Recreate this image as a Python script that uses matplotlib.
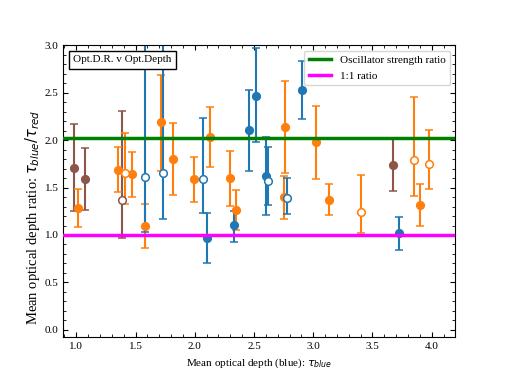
import matplotlib
matplotlib.use('Agg')
import matplotlib.pyplot as plt
from matplotlib.offsetbox import AnchoredText

plt.rcParams['font.family'] = ['Liberation Serif', 'DejaVu Serif']
plt.rcParams['font.size'] = 8

# groups: (x, y, lower, upper)
brown_x = [0.977, 1.076, 3.67]
brown_y = [1.71, 1.59, 1.74]
brown_lo = [1.25, 1.26, 1.46]
brown_hi = [2.17, 1.92, 2.01]

brown_open_x = [1.384]
brown_open_y = [1.37]
brown_open_lo = [0.97]
brown_open_hi = [2.31]

orange_x = [1.013, 1.35, 1.47, 1.58, 1.715, 1.82, 1.99, 2.13, 2.30, 2.345,
            2.75, 2.76, 3.02, 3.13, 3.90]
orange_y = [1.29, 1.69, 1.64, 1.09, 2.19, 1.80, 1.59, 2.03, 1.60, 1.26,
            1.40, 2.14, 1.98, 1.37, 1.32]
orange_lo = [1.08, 1.45, 1.40, 0.86, 1.67, 1.42, 1.35, 1.72, 1.31, 1.05,
             1.17, 1.65, 1.59, 1.21, 1.10]
orange_hi = [1.49, 1.93, 1.88, 1.33, 2.69, 2.18, 1.82, 2.35, 1.89, 1.48,
             1.62, 2.62, 2.36, 1.54, 1.54]

orange_open_x = [1.41, 3.40, 3.85, 3.98]
orange_open_y = [1.65, 1.24, 1.79, 1.75]
orange_open_lo = [1.33, 1.02, 1.41, 1.49]
orange_open_hi = [2.08, 1.63, 2.46, 2.11]

blue_x = [2.10, 2.33, 2.455, 2.52, 2.60, 2.905, 3.72]
blue_y = [0.965, 1.105, 2.11, 2.47, 1.62, 2.53, 1.02]
blue_lo = [0.70, 0.93, 1.68, 1.98, 1.21, 2.22, 0.84]
blue_hi = [1.23, 1.25, 2.53, 2.97, 2.03, 2.84, 1.19]

blue_open_x = [1.58, 1.73, 2.07, 2.62, 2.78]
blue_open_y = [1.61, 1.65, 1.59, 1.565, 1.39]
blue_open_lo = [1.03, 1.17, 1.23, 1.32, 1.22]
blue_open_hi = [3.3, 3.3, 2.23, 1.93, 1.60]

osc_ratio = 2.02
one_ratio = 1.0

fig = plt.figure(figsize=(5.06, 3.79), dpi=100)
ax = fig.add_subplot(111)

def draw(xs, ys, lo, hi, col, filled):
    err = [[y - l for y, l in zip(ys, lo)], [h - y for y, h in zip(ys, hi)]]
    ax.errorbar(xs, ys, yerr=err, fmt='o', color=col, ms=5.5, capsize=3,
                elinewidth=1.5, capthick=1.2,
                mfc=col if filled else 'white', mec=col, mew=1.1)

draw(brown_x, brown_y, brown_lo, brown_hi, '#8c564b', True)
draw(brown_open_x, brown_open_y, brown_open_lo, brown_open_hi, '#8c564b', False)
draw(orange_x, orange_y, orange_lo, orange_hi, '#ff7f0e', True)
draw(orange_open_x, orange_open_y, orange_open_lo, orange_open_hi, '#ff7f0e', False)
draw(blue_x, blue_y, blue_lo, blue_hi, '#1f77b4', True)
draw(blue_open_x, blue_open_y, blue_open_lo, blue_open_hi, '#1f77b4', False)

ax.axhline(osc_ratio, color='green', lw=2.5, label='Oscillator strength ratio', zorder=4)
ax.axhline(one_ratio, color='magenta', lw=2.5, label='1:1 ratio', zorder=4)

ax.set_xlim(0.89, 4.2)
ax.set_ylim(-0.08, 3.0)
ax.minorticks_on()
ax.tick_params(which='both', direction='in', top=True, right=True)
ax.set_xlabel(r'Mean optical depth (blue): $\tau_{blue}$')
ax.set_ylabel(r'Mean optical depth ratio: $\tau_{blue}/\tau_{red}$', fontsize=10.5)
ax.yaxis.set_label_coords(-0.053, 0.41)
ax.legend(loc='upper right')

at = AnchoredText('Opt.D.R. v Opt.Depth', loc='upper left', prop=dict(size=8))
at.patch.set_boxstyle('square,pad=0.')
ax.add_artist(at)

fig.savefig('out.png', dpi=100)
